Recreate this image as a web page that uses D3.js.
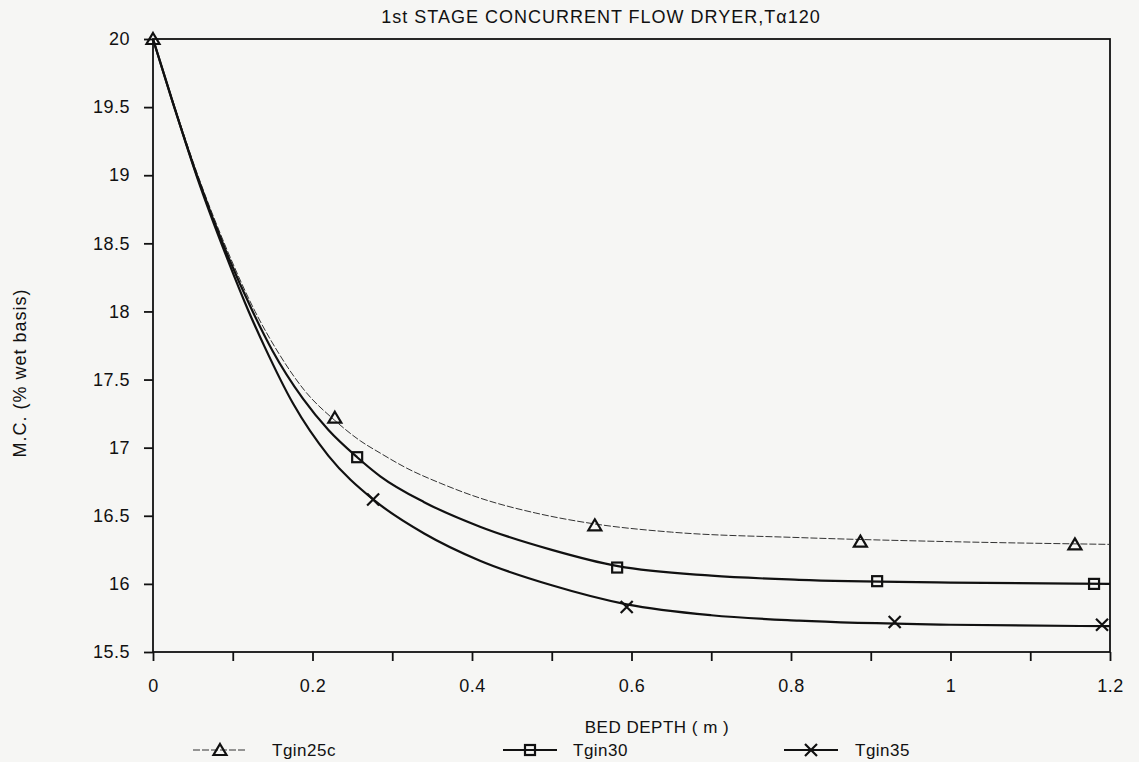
<!DOCTYPE html>
<html lang="en">
<head>
<meta charset="utf-8">
<title>1st stage concurrent flow dryer</title>
<script src="https://d3js.org/d3.v7.min.js"></script>
<style>
  body { margin: 0; background: #f6f6f4; }
  text { font-family: 'Liberation Sans', Arial, sans-serif; fill: #111; }
  .axis text { font-size: 18px; letter-spacing: 0.5px; }
  .axis line { stroke: #111; stroke-width: 1.8; }
  .axis path { display: none; }
  .frame { fill: none; stroke: #111; stroke-width: 1.8; }
</style>
</head>
<body>
<div id="container"></div>
<script>
// ---- data ----
var seriesNames = ["Tgin25c", "Tgin30", "Tgin35"];

// traced curve points [bed depth m, m.c. %]
var curve25 = [[0,20],[0.024,19.56],[0.055,19.02],[0.093,18.45],[0.128,18.0],[0.159,17.68],[0.19,17.42],[0.228,17.2],[0.26,17.05],[0.285,16.96],[0.318,16.85],[0.36,16.74],[0.41,16.63],[0.48,16.52],[0.554,16.44],[0.65,16.38],[0.81,16.34],[1.0,16.31],[1.2,16.29]];
var curve30 = [[0,20],[0.024,19.55],[0.055,19.0],[0.093,18.42],[0.125,18.0],[0.15,17.71],[0.188,17.36],[0.22,17.13],[0.256,16.93],[0.285,16.79],[0.34,16.6],[0.41,16.42],[0.5,16.25],[0.583,16.13],[0.7,16.06],[0.81,16.03],[1.0,16.01],[1.2,16.0]];
var curve35 = [[0,20],[0.024,19.55],[0.055,18.99],[0.093,18.39],[0.12,18.0],[0.14,17.74],[0.176,17.32],[0.22,16.94],[0.276,16.62],[0.34,16.37],[0.41,16.17],[0.5,15.99],[0.594,15.85],[0.7,15.77],[0.81,15.73],[1.0,15.70],[1.2,15.69]];

// marker positions
var marks25 = [[0,20],[0.228,17.22],[0.554,16.43],[0.887,16.31],[1.156,16.29]];
var marks30 = [[0.256,16.93],[0.582,16.12],[0.908,16.02],[1.18,16.0]];
var marks35 = [[0.276,16.62],[0.594,15.83],[0.93,15.72],[1.19,15.70]];

var yTicks = [15.5, 16, 16.5, 17, 17.5, 18, 18.5, 19, 19.5, 20];
var xTicks = [0, 0.1, 0.2, 0.3, 0.4, 0.5, 0.6, 0.7, 0.8, 0.9, 1.0, 1.1, 1.2];

var w = 1139, h = 762;
var svg = d3.select("#container").append("svg")
    .attr("width", w).attr("height", h);

var x = d3.scaleLinear().domain([0, 1.2]).range([153, 1110]);
var y = d3.scaleLinear().domain([15.5, 20]).range([652, 39]);

// axes
svg.append("g").attr("class", "axis")
  .attr("transform", "translate(" + x(0) + ",0)")
  .call(d3.axisLeft(y).tickValues(yTicks).tickSize(9).tickSizeOuter(0).tickPadding(14)
        .tickFormat(d3.format("")));

svg.append("g").attr("class", "axis")
  .attr("transform", "translate(0," + y(15.5) + ")")
  .call(d3.axisBottom(x).tickValues(xTicks).tickSize(9).tickSizeOuter(0).tickPadding(18)
        .tickFormat(function(d, i) { return i % 2 === 0 ? d3.format("")(+d.toFixed(1)) : ""; }));

svg.append("rect").attr("class", "frame")
  .attr("x", x(0)).attr("y", y(20))
  .attr("width", x(1.2) - x(0)).attr("height", y(15.5) - y(20));

// titles
svg.append("text").attr("x", 601).attr("y", 23).attr("text-anchor", "middle")
  .style("font-size", "18px").style("letter-spacing", "1px")
  .text("1st STAGE CONCURRENT FLOW DRYER,T\u03b1120");

svg.append("text").attr("x", 657).attr("y", 733).attr("text-anchor", "middle")
  .style("font-size", "17px").style("letter-spacing", "0.5px").text("BED DEPTH ( m )");

svg.append("text").attr("transform", "translate(26,373) rotate(-90)")
  .attr("text-anchor", "middle").style("font-size", "18px").style("letter-spacing", "1px")
  .text("M.C. (% wet basis)");

// lines
var line = d3.line().x(function(d) { return x(d[0]); }).y(function(d) { return y(d[1]); })
  .curve(d3.curveMonotoneX);

var styles = [
  { data: curve25, marks: marks25, width: 1, dash: "7,2", color: "#333", shape: "tri" },
  { data: curve30, marks: marks30, width: 2.2, dash: null, color: "#111", shape: "sq" },
  { data: curve35, marks: marks35, width: 2.2, dash: null, color: "#111", shape: "x" }
];

function drawMarker(g, shape, cx, cy) {
  if (shape === "tri") {
    g.append("path").attr("d", "M" + cx + "," + (cy - 6) + " L" + (cx + 6.5) + "," + (cy + 5) +
        " L" + (cx - 6.5) + "," + (cy + 5) + " Z")
      .attr("fill", "none").attr("stroke", "#111").attr("stroke-width", 2.2);
  } else if (shape === "sq") {
    g.append("rect").attr("x", cx - 5).attr("y", cy - 5).attr("width", 10).attr("height", 10)
      .attr("fill", "none").attr("stroke", "#111").attr("stroke-width", 2.2);
  } else {
    g.append("path").attr("d", "M" + (cx - 6) + "," + (cy - 6) + " L" + (cx + 6) + "," + (cy + 6) +
        " M" + (cx + 6) + "," + (cy - 6) + " L" + (cx - 6) + "," + (cy + 6))
      .attr("fill", "none").attr("stroke", "#111").attr("stroke-width", 2.2);
  }
}

styles.forEach(function(s) {
  svg.append("path").datum(s.data).attr("d", line)
    .attr("fill", "none").attr("stroke", s.color).attr("stroke-width", s.width)
    .attr("stroke-dasharray", s.dash);
  var g = svg.append("g");
  s.marks.forEach(function(m) { drawMarker(g, s.shape, x(m[0]), y(m[1])); });
});

// legend
var legendX = [193, 503, 784];
var legendTextX = [272, 573, 855];
var legendY = 750;
styles.forEach(function(s, i) {
  var g = svg.append("g");
  g.append("line").attr("x1", legendX[i]).attr("x2", legendX[i] + 54)
    .attr("y1", legendY).attr("y2", legendY)
    .attr("stroke", s.color).attr("stroke-width", s.width).attr("stroke-dasharray", s.dash);
  drawMarker(g, s.shape, legendX[i] + 27, legendY);
  g.append("text").attr("x", legendTextX[i]).attr("y", legendY + 6)
    .style("font-size", "17px").style("letter-spacing", "0.5px").text(seriesNames[i]);
});
</script>
</body>
</html>
